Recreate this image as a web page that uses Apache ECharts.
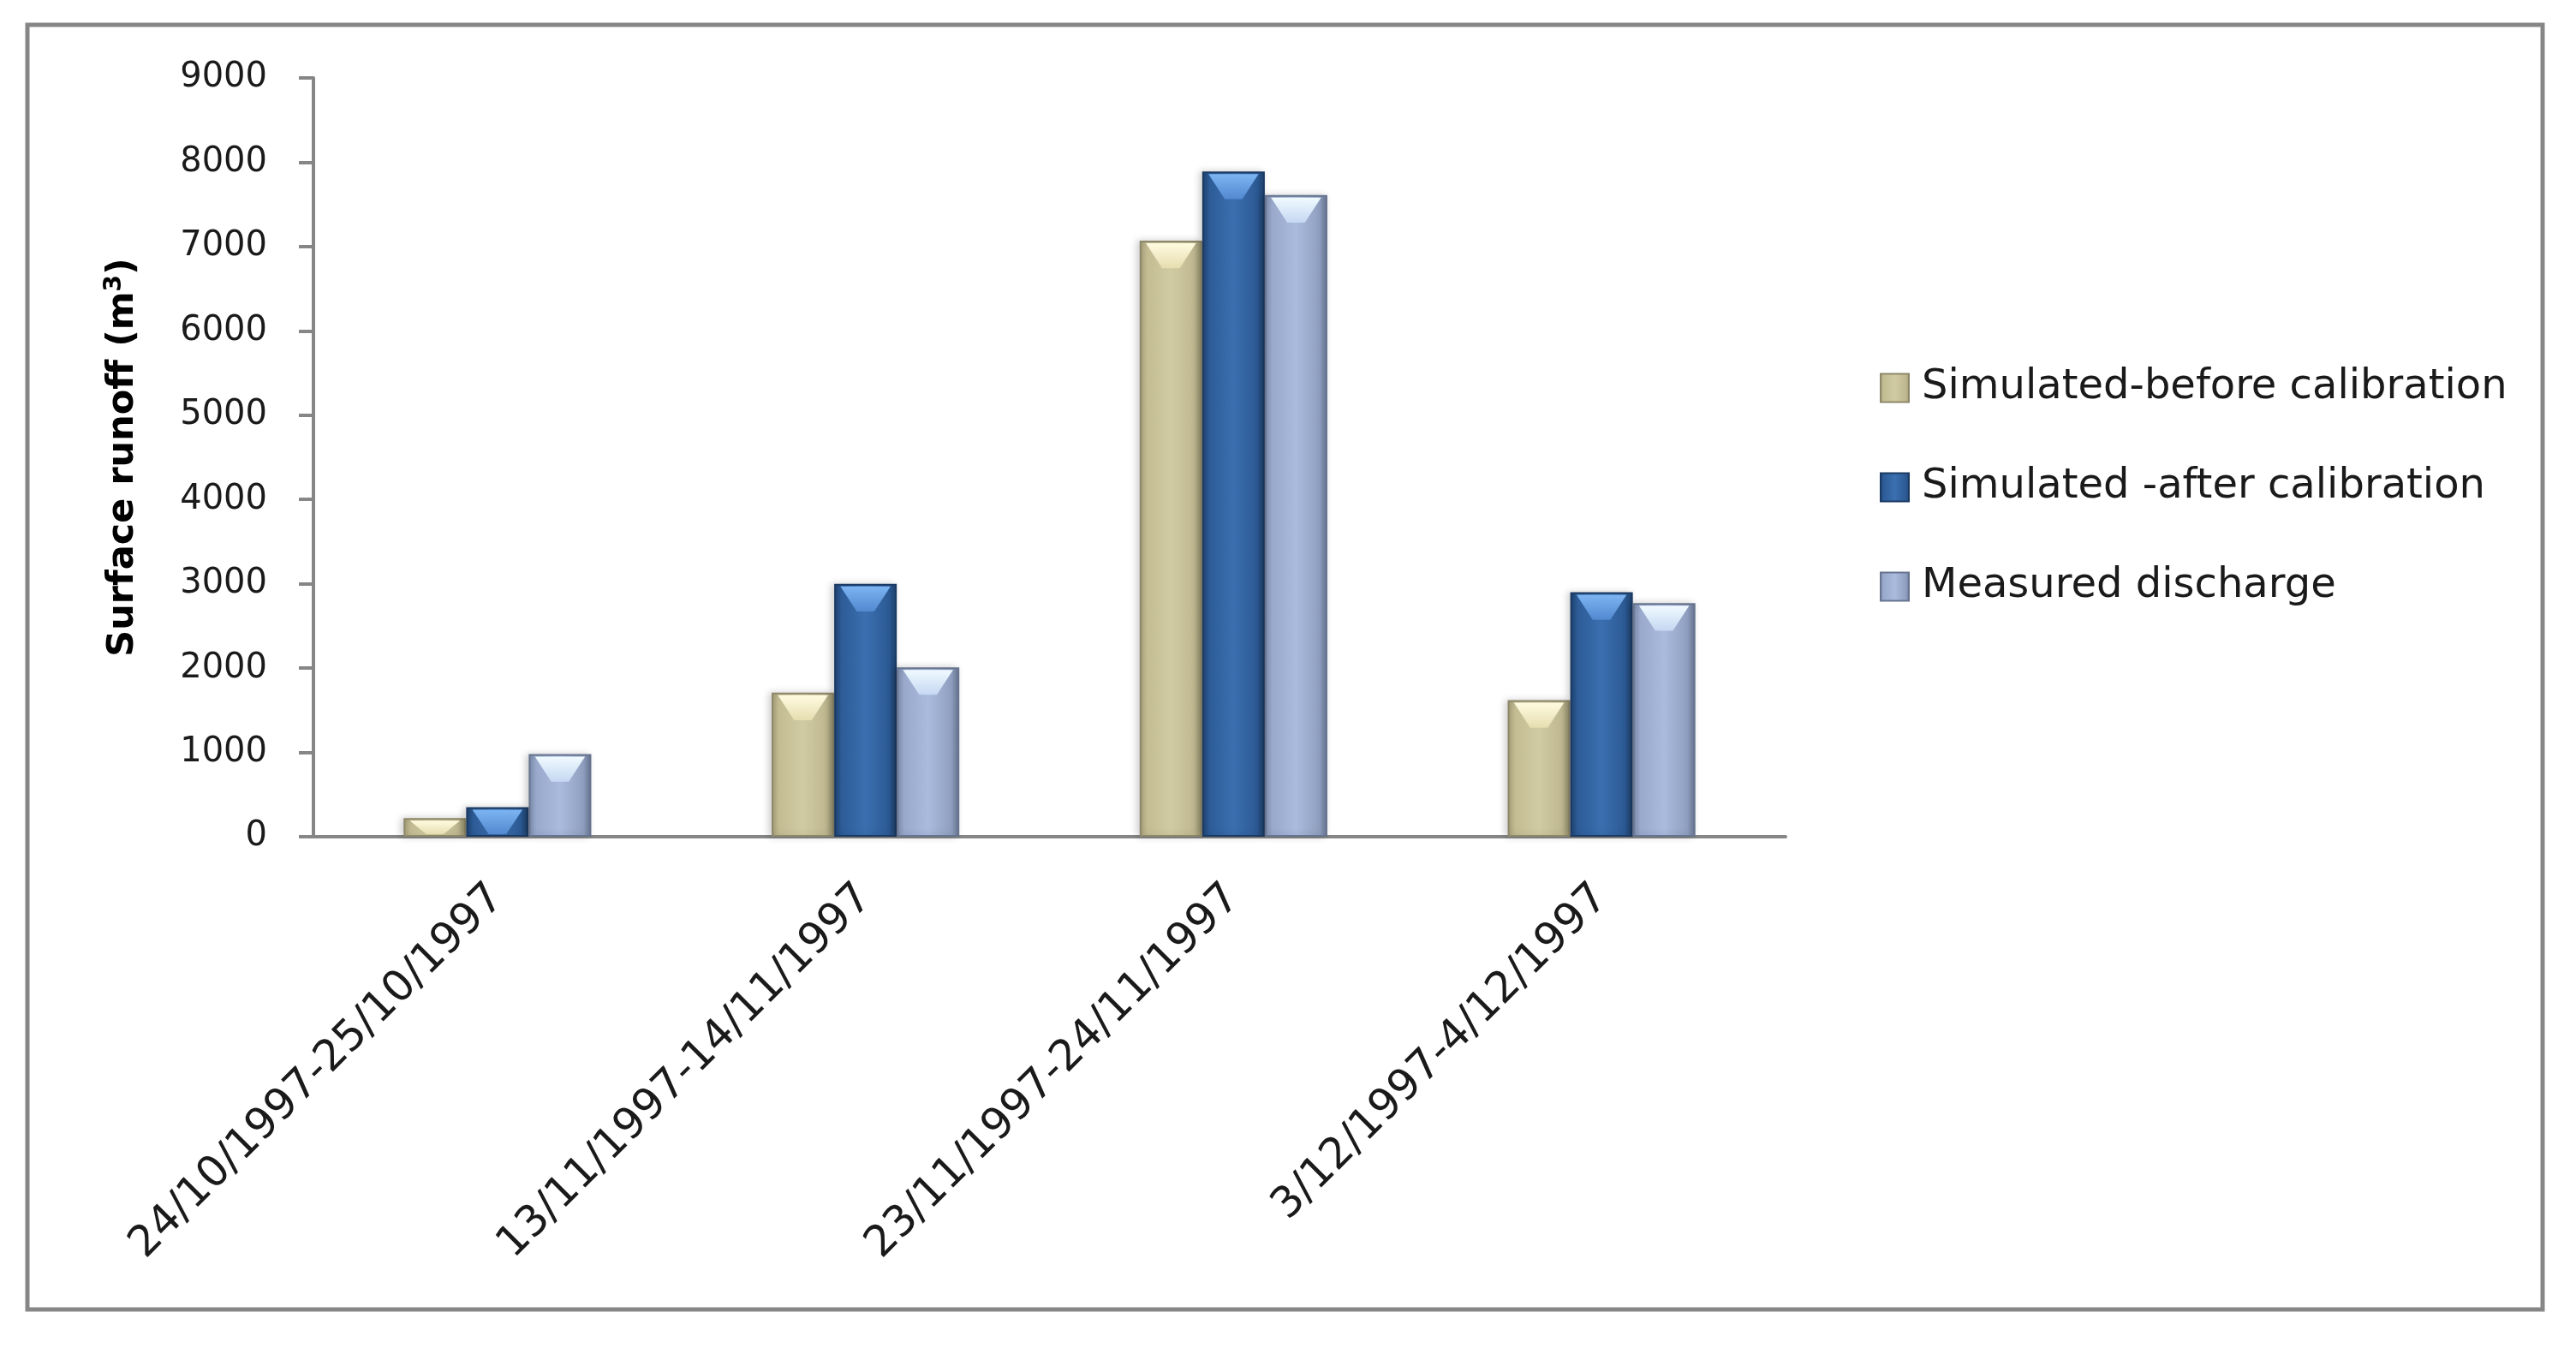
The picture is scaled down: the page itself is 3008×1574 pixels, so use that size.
<!DOCTYPE html>
<html>
<head>
<meta charset="utf-8">
<title>Surface runoff</title>
<script src="https://cdn.jsdelivr.net/npm/echarts@6/dist/echarts.min.js"></script>
<style>
  html, body { margin: 0; padding: 0; background: #fff; }
  #chart { width: 3008px; height: 1574px; }
</style>
</head>
<body>
<div id="chart"></div>
<script>
// data
const categories = ['24/10/1997-25/10/1997', '13/11/1997-14/11/1997', '23/11/1997-24/11/1997', '3/12/1997-4/12/1997']
const seriesNames = ['Simulated-before calibration', 'Simulated -after calibration', 'Measured discharge']
const beforeCalibration = [220, 1710, 7070, 1620]
const afterCalibration = [350, 3000, 7890, 2900]
const measuredDischarge = [980, 2010, 7610, 2770]
const yTicks = [0, 1000, 2000, 3000, 4000, 5000, 6000, 7000, 8000, 9000]

const axisGrey = '#868686'
const categoryGap = 0.49

// horizontal gradient to get the bevelled look of the original bars
function barFill(stops) {
  return new echarts.graphic.LinearGradient(0, 0, 1, 0, stops.map((c, i) => ({
    offset: [0, 0.12, 0.5, 0.88, 1][i],
    color: c
  })))
}

const fills = [
  barFill(['#A39C77', '#C3BC93', '#D1CBA3', '#BEB78F', '#9A9470']),
  barFill(['#1E416F', '#2D5C97', '#3B6FB0', '#2C5A94', '#1E426D']),
  barFill(['#7A89A8', '#98A9CC', '#AABBDE', '#8F9FBF', '#65738E'])
]
const edges = ['#8E886A', '#1B3A63', '#66748F']
// light bevel on the top of each bar
const bevelTop = ['#FFFBE0', '#7DB4F2', '#F0FAFF']
const bevelBottom = ['#E6DDB0', '#5289D0', '#C5D8F2']

const chart = echarts.init(document.getElementById('chart'))

function bevelSeries(vals, i) {
  return {
    type: 'custom',
    silent: true,
    z: 3,
    data: vals.map((v, k) => [k, v]),
    renderItem(params, api) {
      const idx = api.value(0)
      const top = api.coord([idx, api.value(1)])
      const base = api.coord([idx, 0])
      const band = api.size([1, 0])[0]
      const w = band * (1 - categoryGap) / 3
      const left = top[0] - 1.5 * w + i * w
      const h = Math.min(w * 0.4, base[1] - top[1] - 6)
      const e = w * 0.1
      return {
        type: 'polygon',
        shape: {
          points: [
            [left + e, top[1] + 3],
            [left + w - e, top[1] + 3],
            [left + w * 0.64, top[1] + 3 + h],
            [left + w * 0.36, top[1] + 3 + h]
          ]
        },
        style: {
          fill: new echarts.graphic.LinearGradient(0, 0, 0, 1, [
            { offset: 0, color: bevelTop[i] },
            { offset: 1, color: bevelBottom[i] }
          ])
        }
      }
    }
  }
}

const barSeries = [beforeCalibration, afterCalibration, measuredDischarge].map((vals, i) => ({
  name: seriesNames[i],
  type: 'bar',
  data: vals,
  barGap: '0%',
  barCategoryGap: (categoryGap * 100) + '%',
  itemStyle: {
    color: fills[i],
    borderColor: edges[i],
    borderWidth: 2,
    shadowColor: 'rgba(0,0,0,0.18)',
    shadowBlur: 8,
    shadowOffsetX: -3
  }
}))

const option = {
  backgroundColor: '#fff',
  animation: false,
  graphic: [{
    type: 'rect',
    shape: { x: 32, y: 29, width: 2937, height: 1500 },
    style: { fill: 'none', stroke: axisGrey, lineWidth: 5 },
    silent: true
  }],
  legend: {
    orient: 'vertical',
    left: 2190,
    top: 424,
    itemWidth: 33,
    itemHeight: 33,
    itemGap: 68,
    icon: 'rect',
    data: seriesNames,
    textStyle: {
      fontFamily: 'DejaVu Sans',
      fontSize: 48,
      lineHeight: 48,
      color: '#1a1a1a',
      padding: [0, 0, 0, 10]
    }
  },
  grid: {
    left: 366,
    right: 923,
    top: 91,
    bottom: 597
  },
  xAxis: {
    type: 'category',
    data: categories,
    axisLine: { lineStyle: { color: axisGrey, width: 4 } },
    axisTick: { show: false },
    axisLabel: {
      rotate: 45,
      margin: 64,
      interval: 0,
      fontFamily: 'DejaVu Sans',
      fontSize: 50,
      color: '#1a1a1a'
    }
  },
  yAxis: {
    type: 'value',
    min: yTicks[0],
    max: yTicks[yTicks.length - 1],
    interval: 1000,
    name: 'Surface runoff (m{sup|3})',
    nameLocation: 'middle',
    nameRotate: 90,
    nameGap: 198,
    nameTextStyle: {
      fontFamily: 'DejaVu Sans',
      fontWeight: 'bold',
      fontSize: 43,
      color: '#000',
      rich: {
        sup: {
          fontFamily: 'DejaVu Sans',
          fontWeight: 'bold',
          fontSize: 28,
          verticalAlign: 'top',
          padding: [0, 0, 20, 0]
        }
      }
    },
    splitLine: { show: false },
    axisLine: { show: true, lineStyle: { color: axisGrey, width: 4 } },
    axisTick: { show: true, inside: false, length: 17, lineStyle: { color: axisGrey, width: 4 } },
    axisLabel: {
      margin: 54,
      fontFamily: 'DejaVu Sans',
      fontSize: 40,
      color: '#1a1a1a',
      formatter: (v) => String(v)
    }
  },
  series: barSeries.concat([beforeCalibration, afterCalibration, measuredDischarge].map(bevelSeries))
}

chart.setOption(option)
</script>
</body>
</html>
